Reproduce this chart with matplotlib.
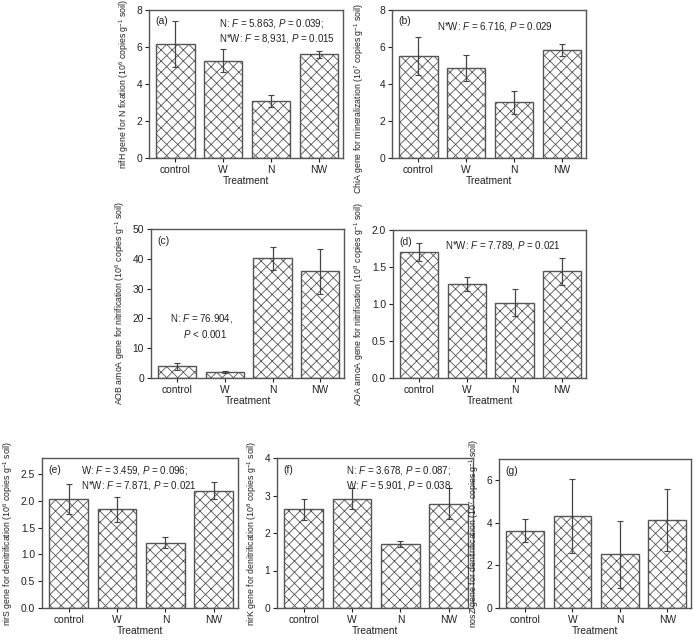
import matplotlib
matplotlib.use("Agg")
import matplotlib.pyplot as plt

plt.rcParams['font.family'] = ['Liberation Sans', 'DejaVu Sans']
plt.rcParams['hatch.color'] = '#606060'
plt.rcParams['hatch.linewidth'] = 0.6
plt.rcParams['mathtext.fontset'] = 'custom'
plt.rcParams['mathtext.rm'] = 'Liberation Sans'
plt.rcParams['mathtext.it'] = 'Liberation Sans:italic'

treatments = ["control", "W", "N", "NW"]

nifH = [6.13, 5.25, 3.07, 5.58]
nifH_err = [1.23, 0.61, 0.31, 0.19]
chiA = [5.50, 4.86, 3.00, 5.81]
chiA_err = [1.01, 0.69, 0.62, 0.31]
aob = [3.9, 2.1, 40.2, 35.8]
aob_err = [1.2, 0.3, 3.8, 7.5]
aoa = [1.70, 1.27, 1.02, 1.44]
aoa_err = [0.12, 0.09, 0.18, 0.18]
nirS = [2.04, 1.84, 1.22, 2.19]
nirS_err = [0.28, 0.24, 0.10, 0.155]
nirK = [2.63, 2.92, 1.71, 2.78]
nirK_err = [0.27, 0.28, 0.07, 0.41]
nosZ = [3.63, 4.34, 2.53, 4.15]
nosZ_err = [0.55, 1.74, 1.58, 1.46]

W, H = 696, 641
fig = plt.figure(figsize=(W / 100, H / 100), dpi=100)

def add_ax(l, r, t, b):
    return fig.add_axes([l / W, 1 - b / H, (r - l) / W, (b - t) / H])

panels = [
    dict(box=(149, 343, 9.5, 158), vals=nifH, err=nifH_err, ylim=(0, 8), ticks=[0, 2, 4, 6, 8],
         fmt="{:g}", lab="(a)", ylpos=None,
         ylabel="nifH gene for N fixation (10$^{6}$ copies g$^{-1}$ soil)",
         ann="N: $F$ = 5.863, $P$ = 0.039;\nN*W: $F$ = 8,931, $P$ = 0.015", ax_xy=(0.36, 0.95)),
    dict(box=(392, 586, 9.5, 158), vals=chiA, err=chiA_err, ylim=(0, 8), ticks=[0, 2, 4, 6, 8],
         fmt="{:g}", lab="(b)", ylpos=(-0.135, 0.40),
         ylabel="ChiA gene for mineralization (10$^{7}$ copies g$^{-1}$ soil)",
         ann="N*W: $F$ = 6.716, $P$ = 0.029", ax_xy=(0.23, 0.93)),
    dict(box=(151, 344, 229, 378), vals=aob, err=aob_err, ylim=(0, 50), ticks=[0, 10, 20, 30, 40, 50],
         fmt="{:g}", lab="(c)", ylpos=None,
         ylabel="AOB amoA gene for nitrification (10$^{6}$ copies g$^{-1}$ soil)",
         ann="N: $F$ = 76.904,\n     $P$ < 0.001", ax_xy=(0.10, 0.44)),
    dict(box=(393, 586, 230, 378), vals=aoa, err=aoa_err, ylim=(0, 2.0), ticks=[0, 0.5, 1.0, 1.5, 2.0],
         fmt="{:.1f}", lab="(d)", ylpos=None,
         ylabel="AOA amoA gene for nitrification (10$^{8}$ copies g$^{-1}$ soil)",
         ann="N*W: $F$ = 7.789, $P$ = 0.021", ax_xy=(0.27, 0.94)),
    dict(box=(42, 238, 458, 608), vals=nirS, err=nirS_err, ylim=(0, 2.8), ticks=[0, 0.5, 1.0, 1.5, 2.0, 2.5],
         fmt="{:.1f}", lab="(e)", ylpos=None,
         ylabel="nirS gene for denitrification (10$^{6}$ copies g$^{-1}$ soil)",
         ann="W: $F$ = 3.459, $P$ = 0.096;\nN*W: $F$ = 7.871, $P$ = 0.021", ax_xy=(0.20, 0.96)),
    dict(box=(277, 473, 458, 608), vals=nirK, err=nirK_err, ylim=(0, 4), ticks=[0, 1, 2, 3, 4],
         fmt="{:g}", lab="(f)", ylpos=None,
         ylabel="nirK gene for denitrification (10$^{8}$ copies g$^{-1}$ soil)",
         ann="N: $F$ = 3.678, $P$ = 0.087;\nW: $F$ = 5.901, $P$ = 0.038", ax_xy=(0.35, 0.96)),
    dict(box=(499, 691, 459, 608), vals=nosZ, err=nosZ_err, ylim=(0, 7), ticks=[0, 2, 4, 6],
         fmt="{:g}", lab="(g)", ylpos=None,
         ylabel="nosZ gene for denitrification (10$^{7}$ copies g$^{-1}$ soil)",
         ann=None, ax_xy=None),
]

x = list(range(len(treatments)))
for p in panels:
    ax = add_ax(*p["box"])
    ax.bar(x, p["vals"], width=0.8, color='white', edgecolor='#555555', linewidth=1.0,
           hatch='xxx', zorder=2)
    ax.errorbar(x, p["vals"], yerr=p["err"], fmt='none', ecolor='#444444', elinewidth=0.9,
                capsize=2, capthick=0.8, zorder=3)
    ax.set_xlim(-0.55, 3.5)
    ax.set_ylim(*p["ylim"])
    ax.set_yticks(p["ticks"])
    ax.set_yticklabels([p["fmt"].format(t) for t in p["ticks"]])
    ax.set_xticks(x)
    ax.set_xticklabels(treatments)
    ax.tick_params(direction='out', length=3, width=0.8, labelsize=7.4, colors='#222222', pad=2)
    for s in ax.spines.values():
        s.set_color('#555555')
        s.set_linewidth(1.0)
    ax.set_xlabel("Treatment", fontsize=7.4, labelpad=1, color='#222222')
    ax.set_ylabel(p["ylabel"], fontsize=6.3, labelpad=4, color='#222222')
    if p["ylpos"]:
        ax.yaxis.set_label_coords(*p["ylpos"])
    ax.text(0.035, 0.955, p["lab"], transform=ax.transAxes, fontsize=7.5, va='top', ha='left',
            color='#222222')
    if p["ann"]:
        ax.text(p["ax_xy"][0], p["ax_xy"][1], p["ann"], transform=ax.transAxes, fontsize=7,
                va='top', ha='left', color='#222222', linespacing=1.25)

fig.savefig("out.png", dpi=100)
